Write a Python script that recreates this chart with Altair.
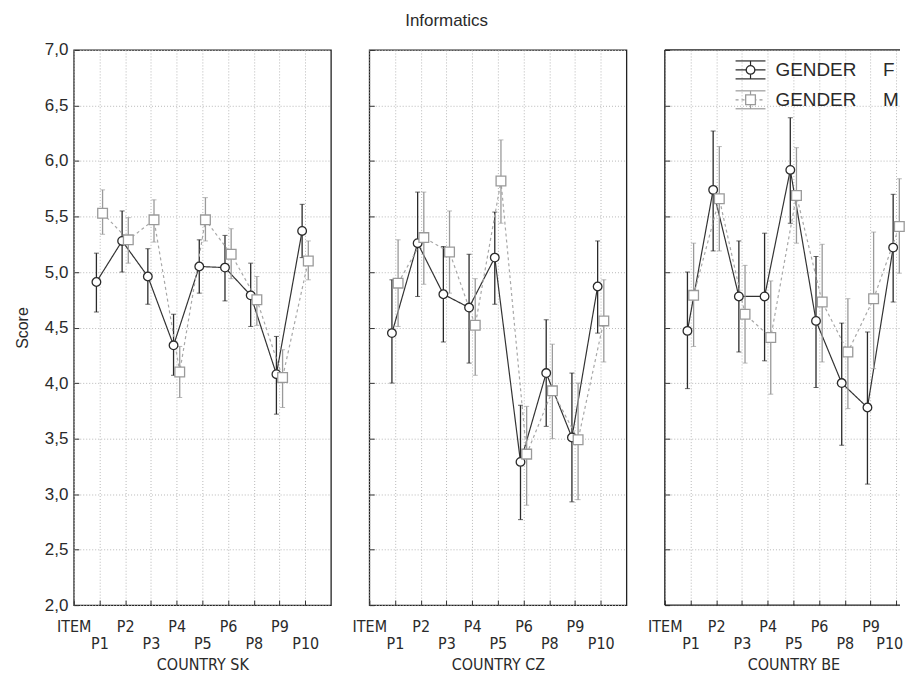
import altair as alt
import pandas as pd

countries = ["SK", "CZ", "BE"]
items = ["P1", "P2", "P3", "P4", "P5", "P6", "P8", "P9", "P10"]
axis_names = ["ITEM"] + items
genders = ["F", "M"]

# SK
sk_f_mean = [4.91, 5.28, 4.96, 4.34, 5.05, 5.04, 4.79, 4.08, 5.37]
sk_f_lo = [4.64, 5.00, 4.71, 4.07, 4.81, 4.74, 4.51, 3.72, 5.13]
sk_f_hi = [5.17, 5.55, 5.21, 4.62, 5.29, 5.33, 5.08, 4.42, 5.61]
sk_m_mean = [5.53, 5.29, 5.47, 4.10, 5.47, 5.16, 4.75, 4.05, 5.10]
sk_m_lo = [5.34, 5.08, 5.27, 3.87, 5.28, 4.94, 4.52, 3.78, 4.93]
sk_m_hi = [5.74, 5.49, 5.65, 4.33, 5.67, 5.39, 4.96, 4.30, 5.28]
# CZ
cz_f_mean = [4.45, 5.26, 4.80, 4.68, 5.13, 3.29, 4.09, 3.51, 4.87]
cz_f_lo = [4.00, 4.78, 4.37, 4.18, 4.71, 2.77, 3.61, 2.93, 4.45]
cz_f_hi = [4.93, 5.72, 5.23, 5.16, 5.54, 3.80, 4.57, 4.09, 5.28]
cz_m_mean = [4.90, 5.31, 5.18, 4.52, 5.82, 3.36, 3.93, 3.49, 4.56]
cz_m_lo = [4.51, 4.89, 4.81, 4.07, 5.44, 2.90, 3.50, 2.95, 4.19]
cz_m_hi = [5.29, 5.72, 5.55, 4.94, 6.19, 3.79, 4.35, 4.00, 4.93]
# BE
be_f_mean = [4.47, 5.74, 4.78, 4.78, 5.92, 4.56, 4.00, 3.78, 5.22]
be_f_lo = [3.95, 5.19, 4.28, 4.20, 5.44, 3.96, 3.44, 3.09, 4.73]
be_f_hi = [5.00, 6.27, 5.28, 5.35, 6.39, 5.14, 4.54, 4.46, 5.70]
be_m_mean = [4.79, 5.66, 4.62, 4.41, 5.69, 4.73, 4.28, 4.76, 5.41]
be_m_lo = [4.33, 5.19, 4.18, 3.90, 5.26, 4.19, 3.77, 4.13, 4.99]
be_m_hi = [5.26, 6.13, 5.06, 4.92, 6.12, 5.25, 4.76, 5.36, 5.84]

series = {
    ("SK", "F"): (sk_f_mean, sk_f_lo, sk_f_hi),
    ("SK", "M"): (sk_m_mean, sk_m_lo, sk_m_hi),
    ("CZ", "F"): (cz_f_mean, cz_f_lo, cz_f_hi),
    ("CZ", "M"): (cz_m_mean, cz_m_lo, cz_m_hi),
    ("BE", "F"): (be_f_mean, be_f_lo, be_f_hi),
    ("BE", "M"): (be_m_mean, be_m_lo, be_m_hi),
}

rows = []
for (c, g), (mean, lo, hi) in series.items():
    for i, it in enumerate(items):
        rows.append(dict(country=c, gender=g, item=it, idx=i + 1,
                         mean=mean[i], lo=lo[i], hi=hi[i]))
df = pd.DataFrame(rows)

SANS = "Liberation Sans, Arial, sans-serif"
NARROW = ("Liberation Sans Narrow, Arial Narrow, DejaVu Sans Condensed, "
          "Roboto Condensed, Liberation Sans, sans-serif")
DARK = "#2a2a2a"
GRAY = "#9a9a9a"
style = {
    "F": dict(color=DARK, dash=[1, 0], shape="circle", lcolor="#333333"),
    "M": dict(color=GRAY, dash=[3, 3], shape="square", lcolor="#a8a8a8"),
}

names_js = "[" + ",".join("'%s'" % n for n in axis_names) + "]"
x_label_expr = ("datum.value % 2 == 0 ? [" + names_js + "[datum.value]] : ['', "
                + names_js + "[datum.value]]")

PW, PH = 258, 557
SPACING = 38.5
PW_LAST = 236
UNIT = PW / 10.0


def make_panel(country, first, width, last):
    xmax = width / UNIT
    label_offset = ({"condition": {"test": "datum.value == 9", "value": -7},
                     "value": 0} if last else 0)

    def xenc():
        return alt.X(
            "xpos:Q",
            scale=alt.Scale(domain=[0, xmax], nice=False, zero=False),
            axis=alt.Axis(values=list(range(10)), labelExpr=x_label_expr,
                          labelFont=NARROW, labelFontSize=16, labelLineHeight=18,
                          labelPadding=13, labelAngle=0, labelAlign="center",
                          labelBaseline="top", labelOverlap=False,
                          labelFlush=False, labelOffset=label_offset,
                          offset=-5, ticks=True, tickSize=5,
                          tickColor="#333333",
                          title="COUNTRY  " + country, titleFont=NARROW,
                          titleFontSize=16, titleFontWeight="normal",
                          titlePadding=5, titleColor=DARK,
                          titleX=PW / 2.0),
        )

    def yenc(field):
        if first:
            ax = alt.Axis(values=[2 + 0.5 * k for k in range(11)],
                          labelExpr="replace(format(datum.value, '.1f'), '.', ',')",
                          labelFont=SANS, labelFontSize=17, labelPadding=6,
                          offset=-5, ticks=True, tickSize=5, tickColor="#333333",
                          title="Score", titleFont=SANS, titleFontSize=16,
                          titleFontWeight="normal", titlePadding=14,
                          titleColor=DARK)
        else:
            ax = alt.Axis(values=[2 + 0.5 * k for k in range(11)],
                          labels=False, title=None, offset=-5, ticks=True,
                          tickSize=5, tickColor="#333333")
        return alt.Y(field + ":Q",
                     scale=alt.Scale(domain=[2, 7], nice=False, zero=False),
                     axis=ax)

    base = alt.Chart(df).transform_filter(
        alt.datum.country == country
    ).transform_calculate(
        xpos="datum.idx + (datum.gender == 'F' ? -0.12 : 0.12)"
    )

    layers = []
    for g in genders:
        s = style[g]
        b = base.transform_filter(alt.datum.gender == g)
        layers.append(b.mark_line(color=s["lcolor"], strokeWidth=1.2,
                                  strokeDash=s["dash"]).encode(
            x=xenc(), y=yenc("mean"), order="idx:Q"))
        layers.append(b.mark_rule(color=s["color"], strokeWidth=1.3).encode(
            x=xenc(), y=yenc("lo"), y2="hi:Q"))
        for f in ["lo", "hi"]:
            layers.append(b.mark_tick(orient="horizontal", color=s["color"],
                                      size=5, thickness=1).encode(
                x=xenc(), y=yenc(f)))
    for g in genders:
        s = style[g]
        b = base.transform_filter(alt.datum.gender == g)
        layers.append(b.mark_point(shape=s["shape"], filled=True, fill="white",
                                   stroke=s["color"], strokeWidth=1.3,
                                   size=75 if g == "F" else 95,
                                   opacity=1).encode(
            x=xenc(), y=yenc("mean")))
    return layers


def frame_layers(width):
    fr = alt.Chart(pd.DataFrame({"g": genders[:1]}))
    col = "#222222"
    return [
        fr.mark_rule(color=col, strokeWidth=1.3).encode(
            x=alt.value(0), y=alt.value(0), y2=alt.value(PH)),
        fr.mark_rule(color=col, strokeWidth=1.3).encode(
            x=alt.value(0), x2=alt.value(width), y=alt.value(0)),
        fr.mark_rule(color=col, strokeWidth=1.3).encode(
            x=alt.value(0), x2=alt.value(width), y=alt.value(PH)),
    ]


def legend_layers():
    leg = alt.Chart(pd.DataFrame({"g": genders[:1]}))
    out = []
    lx0, lx1, lxc = 71, 101, 86
    for k, g in enumerate(genders):
        s = style[g]
        yc = 20 + 30 * k
        for yy in [yc - 9, yc + 9]:
            out.append(leg.mark_rule(color=s["color"], strokeWidth=1.2).encode(
                x=alt.value(lx0), x2=alt.value(lx1), y=alt.value(yy)))
        out.append(leg.mark_rule(color=s["color"], strokeWidth=1.2,
                                 strokeDash=s["dash"]).encode(
            x=alt.value(lx0), x2=alt.value(lx1), y=alt.value(yc)))
        out.append(leg.mark_rule(color=s["color"], strokeWidth=1.2).encode(
            x=alt.value(lxc), y=alt.value(yc - 9), y2=alt.value(yc + 9)))
        out.append(leg.mark_point(shape=s["shape"], filled=True, fill="white",
                                  stroke=s["color"], strokeWidth=1.3,
                                  size=75 if g == "F" else 95, opacity=1).encode(
            x=alt.value(lxc), y=alt.value(yc)))
        out.append(leg.mark_text(text="GENDER", align="left", baseline="middle",
                                 font=SANS, fontSize=19, color=DARK).encode(
            x=alt.value(111), y=alt.value(yc)))
        out.append(leg.mark_text(text=g, align="left", baseline="middle",
                                 font=SANS, fontSize=19, color=DARK).encode(
            x=alt.value(219), y=alt.value(yc)))
    return out


panels = []
for i, c in enumerate(countries):
    last = i == len(countries) - 1
    w = PW_LAST if last else PW
    lyr = make_panel(c, i == 0, w, last)
    if last:
        lyr = lyr + legend_layers() + frame_layers(w)
        p = alt.layer(*lyr).properties(
            width=w, height=PH,
            view=alt.ViewBackground(stroke="transparent"))
    else:
        p = alt.layer(*lyr).properties(width=w, height=PH)
    panels.append(p)

chart = alt.hconcat(*panels, spacing=SPACING, bounds="flush").properties(
    title=alt.TitleParams("Informatics", font=SANS, fontSize=17,
                          fontWeight="normal", color=DARK, anchor="middle",
                          offset=10, dx=-14),
    padding={"left": 5, "top": 3, "right": 0, "bottom": 2},
).configure_view(
    stroke="#222222", strokeWidth=1.3
).configure_axis(
    domain=False, ticks=False, grid=True, gridColor="#b8b8b8",
    gridDash=[1, 2], gridWidth=1, labelColor=DARK
)

chart.save("out.html", embed_options={"renderer": "svg", "actions": False})
